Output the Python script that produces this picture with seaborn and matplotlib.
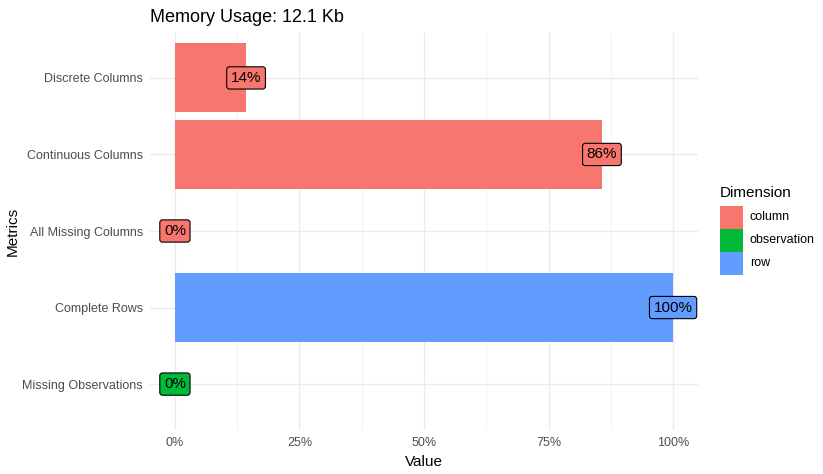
import matplotlib
matplotlib.use("Agg")
import matplotlib.pyplot as plt
import matplotlib.patches as mpatches
import seaborn as sns
import pandas as pd
import numpy as np

metrics = ["Discrete Columns", "Continuous Columns", "All Missing Columns",
           "Complete Rows", "Missing Observations"]
values = [1/7, 6/7, 0.0, 1.0, 0.0]
labels = ["14%", "86%", "0%", "100%", "0%"]
dimension = ["column", "column", "column", "row", "observation"]
dim_levels = ["column", "observation", "row"]
palette = {"column": "#F8766D", "observation": "#00BA38", "row": "#619CFF"}
xticks = [0, 0.25, 0.5, 0.75, 1.0]
xticklabels = ["0%", "25%", "50%", "75%", "100%"]

df = pd.DataFrame({"Metrics": metrics, "Value": values, "Dimension": dimension})

sns.set_theme(style="white")
plt.rcParams["font.family"] = ["Liberation Sans", "DejaVu Sans"]

W, H = 823, 474
fig = plt.figure(figsize=(W/100, H/100), dpi=100)
ax = fig.add_axes([150/W, 1-430/H, (698-150)/W, (430-32)/H])

sns.barplot(data=df, x="Value", y="Metrics", hue="Dimension", order=metrics,
            hue_order=dim_levels, palette=palette, dodge=False, width=0.9,
            orient="h", ax=ax, legend=False, saturation=1, linewidth=0)

ax.set_xlim(-0.05, 1.05)
ax.set_ylim(len(metrics) - 0.4, -0.6)

# gridlines
for x in [0.125, 0.375, 0.625, 0.875]:
    ax.axvline(x, color="#EBEBEB", lw=0.5, zorder=0)
for x in xticks:
    ax.axvline(x, color="#EBEBEB", lw=1.0, zorder=0)
for i in range(len(metrics)):
    ax.axhline(i, color="#EBEBEB", lw=1.0, zorder=0)
ax.set_axisbelow(True)
for s in ax.spines.values():
    s.set_visible(False)

ax.set_xticks(xticks)
ax.set_xticklabels(xticklabels)
ax.tick_params(axis="both", length=0, labelsize=9, labelcolor="#4D4D4D", pad=5)
ax.set_xlabel("Value", fontsize=11, color="black", labelpad=4)
ax.set_ylabel("Metrics", fontsize=11, color="black", labelpad=2)

for i, (v, lab, d) in enumerate(zip(values, labels, dimension)):
    ax.text(v, i, lab, ha="center", va="center", fontsize=11, color="black",
            bbox=dict(boxstyle="round,pad=0.27,rounding_size=0.18",
                      fc=palette[d], ec="black", lw=0.8), zorder=5)

fig.text(150/W, 1-17/H, "Memory Usage: 12.1 Kb", fontsize=13, ha="left",
         va="center", color="black")

# legend (drawn manually in figure pixel space)
fig.text(720/W, 1-193/H, "Dimension", fontsize=11, ha="left", va="center",
         color="black")
key_top, key_h, key_w, key_x = 206, 23, 23, 720
for j, k in enumerate(dim_levels):
    y0 = key_top + j*key_h
    fig.add_artist(mpatches.Rectangle((key_x/W, 1-(y0+key_h)/H), key_w/W,
                                      key_h/H, transform=fig.transFigure,
                                      fc=palette[k], ec="none"))
    fig.text(750/W, 1-(y0+key_h/2)/H, k, fontsize=9, ha="left", va="center",
             color="black")

fig.savefig("out.png", dpi=100)
